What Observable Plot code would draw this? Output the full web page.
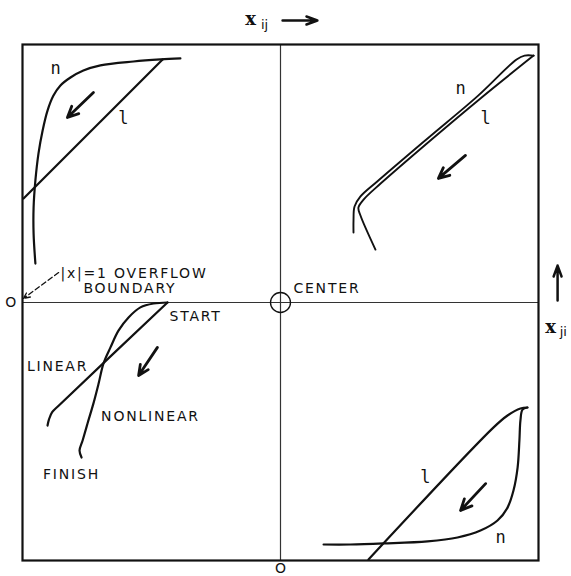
<!DOCTYPE html>
<html>
<head>
<meta charset="utf-8">
<script src="https://cdn.jsdelivr.net/npm/d3@7"></script>
<script src="https://cdn.jsdelivr.net/npm/@observablehq/plot@0.6"></script>
<style>
  body { margin: 0; background: #fff; }
</style>
</head>
<body>
<div id="chart"></div>
<script>
// Trajectories of the pair (x_ij, x_ji) inside the |x| = 1 box, one run per quadrant.
// "n" = nonlinear run, "l" = linear run.

// upper-left quadrant
const ulNonlinear = [[-0.388,0.946],[-0.465,0.942],[-0.570,0.934],[-0.698,0.919],[-0.764,0.899],[-0.814,0.872],[-0.853,0.841],[-0.880,0.802],[-0.903,0.744],[-0.922,0.667],[-0.938,0.578],[-0.950,0.473],[-0.957,0.368],[-0.957,0.267],[-0.950,0.151]];
const ulLinear = [[-0.457,0.942],[-0.996,0.403]];

// upper-right quadrant
const urNonlinear = [[0.981,0.957],[0.946,0.957],[0.915,0.942],[0.764,0.800],[0.570,0.636],[0.376,0.470],[0.310,0.411],[0.287,0.372],[0.283,0.318],[0.283,0.271]];
const urLinear = [[0.981,0.957],[0.775,0.791],[0.581,0.628],[0.388,0.461],[0.322,0.399],[0.302,0.368],[0.310,0.337],[0.368,0.205]];

// lower-left quadrant
const llNonlinear = [[-0.438,0],[-0.492,-0.004],[-0.543,-0.019],[-0.589,-0.058],[-0.628,-0.109],[-0.659,-0.174],[-0.686,-0.236],[-0.705,-0.314],[-0.725,-0.391],[-0.748,-0.469],[-0.767,-0.535],[-0.779,-0.574],[-0.771,-0.601]];
const llLinear = [[-0.438,0],[-0.860,-0.400],[-0.885,-0.425],[-0.897,-0.452],[-0.903,-0.477]];

// lower-right quadrant
const lrNonlinear = [[0.957,-0.407],[0.938,-0.415],[0.930,-0.457],[0.926,-0.535],[0.919,-0.640],[0.903,-0.729],[0.880,-0.795],[0.841,-0.845],[0.775,-0.884],[0.686,-0.911],[0.570,-0.926],[0.399,-0.934],[0.271,-0.938],[0.167,-0.938]];
const lrLinear = [[0.341,-0.996],[0.826,-0.484],[0.880,-0.438],[0.930,-0.411],[0.957,-0.407]];

// direction-of-travel arrows: x1, y1, x2, y2
const flowArrows = [
  [-0.725, 0.814, -0.826, 0.717],
  [0.717, 0.570, 0.612, 0.481],
  [-0.477, -0.174, -0.550, -0.283],
  [0.795, -0.702, 0.698, -0.806]
];

// curve tags
const tagText = ["n", "l", "n", "l", "l", "n"];
const tagX = [-0.872, -0.609, 0.698, 0.795, 0.562, 0.853];
const tagY = [0.907, 0.713, 0.829, 0.713, -0.678, -0.911];

// captions in capitals
const capText = ["START", "LINEAR", "NONLINEAR", "FINISH"];
const capX = [-0.329, -0.864, -0.504, -0.810];
const capY = [-0.054, -0.248, -0.442, -0.667];

const centerLabel = "CENTER";
const boundaryLines = ["|x|=1 OVERFLOW", "BOUNDARY"];
const boundaryX = [-0.853, -0.764];
const boundaryY = [0.112, 0.054];
const boundaryPointer = [-0.860, 0.116, -0.996, 0.016];

const originText = ["O", "O"];
const originX = [-1.045, 0];
const originY = [0, -1.033];

const tags = tagText.map((t, i) => ({t, x: tagX[i], y: tagY[i]}));
const caps = capText.map((t, i) => ({t, x: capX[i], y: capY[i]}));
const boundary = boundaryLines.map((t, i) => ({t, x: boundaryX[i], y: boundaryY[i]}));
const origins = originText.map((t, i) => ({t, x: originX[i], y: originY[i]}));
const arrows = flowArrows.map(([x1, y1, x2, y2]) => ({x1, y1, x2, y2}));

const ink = "#111";
const sans = "DejaVu Sans";
const lw = 2.2;

const svg = Plot.plot({
  width: 571,
  height: 576,
  marginLeft: 22,
  marginRight: 33,
  marginTop: 44,
  marginBottom: 16,
  x: {domain: [-1, 1], axis: null},
  y: {domain: [-1, 1], axis: null},
  style: {background: "#fff", color: ink},
  marks: [
    Plot.ruleX([0], {stroke: "#333", strokeWidth: 1.2}),
    Plot.ruleY([0], {stroke: "#333", strokeWidth: 1.2}),
    Plot.frame({stroke: ink, strokeWidth: 2.2}),
    Plot.dot([[0, 0]], {r: 10, stroke: ink, strokeWidth: 1.3, fill: "none"}),

    Plot.line(ulNonlinear, {curve: "catmull-rom", stroke: ink, strokeWidth: lw}),
    Plot.line(ulLinear, {stroke: ink, strokeWidth: lw}),
    Plot.line(urNonlinear, {curve: "catmull-rom", stroke: ink, strokeWidth: 1.9}),
    Plot.line(urLinear, {curve: "catmull-rom", stroke: ink, strokeWidth: 1.9}),
    Plot.line(llNonlinear, {curve: "catmull-rom", stroke: ink, strokeWidth: lw}),
    Plot.line(llLinear, {curve: "catmull-rom", stroke: ink, strokeWidth: lw}),
    Plot.line(lrNonlinear, {curve: "catmull-rom", stroke: ink, strokeWidth: lw}),
    Plot.line(lrLinear, {curve: "catmull-rom", stroke: ink, strokeWidth: lw}),

    Plot.arrow(arrows, {x1: "x1", y1: "y1", x2: "x2", y2: "y2", stroke: ink, strokeWidth: 2.8, headLength: 9, headAngle: 50}),
    Plot.arrow([boundaryPointer], {x1: d => d[0], y1: d => d[1], x2: d => d[2], y2: d => d[3], stroke: ink, strokeWidth: 1.3, strokeDasharray: "5,3", headLength: 8, headAngle: 50}),

    Plot.text(tags, {x: "x", y: "y", text: "t", fontFamily: "DejaVu Sans Mono", fontSize: 17, fill: ink}),
    Plot.text(caps, {x: "x", y: "y", text: "t", fontFamily: sans, fontSize: 14, fill: ink}),
    Plot.text([centerLabel], {x: 0.050, y: 0.054, text: d => d, textAnchor: "start", fontFamily: sans, fontSize: 14, fill: ink}),
    Plot.text(boundary, {x: "x", y: "y", text: "t", textAnchor: "start", fontFamily: sans, fontSize: 14, fill: ink}),
    Plot.text(origins, {x: "x", y: "y", text: "t", fontFamily: sans, fontSize: 14, fill: ink}),

    // axis names: x_ij along the top, x_ji on the right
    Plot.text(["x"], {x: -0.116, y: 1.097, text: d => d, fontFamily: "DejaVu Serif", fontSize: 18, fontWeight: "bold", fill: ink}),
    Plot.text(["ij"], {x: -0.062, y: 1.078, text: d => d, fontFamily: sans, fontSize: 13, fill: ink}),
    Plot.arrow([[0.008, 1.093, 0.143, 1.093]], {x1: d => d[0], y1: d => d[1], x2: d => d[2], y2: d => d[3], stroke: ink, strokeWidth: 2.5, headLength: 9, headAngle: 40}),
    Plot.text(["x"], {x: 1.047, y: -0.097, text: d => d, fontFamily: "DejaVu Serif", fontSize: 18, fontWeight: "bold", fill: ink}),
    Plot.text(["ji"], {x: 1.096, y: -0.112, text: d => d, fontFamily: sans, fontSize: 13, fill: ink}),
    Plot.arrow([[1.074, 0.008, 1.074, 0.143]], {x1: d => d[0], y1: d => d[1], x2: d => d[2], y2: d => d[3], stroke: ink, strokeWidth: 2.5, headLength: 9, headAngle: 40})
  ]
});

// the lettered captions are widely spaced
const spaced = new Set([...capText, centerLabel, ...boundaryLines]);
d3.select(svg).selectAll("text")
  .filter(function () { return spaced.has(this.textContent); })
  .style("letter-spacing", "1.8px");
document.getElementById("chart").append(svg);
</script>
</body>
</html>
